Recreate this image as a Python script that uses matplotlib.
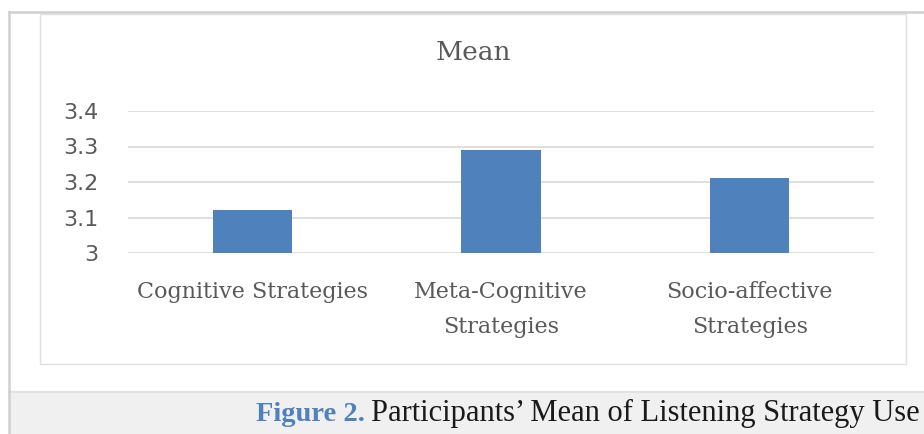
import matplotlib
matplotlib.use("Agg")
import matplotlib.pyplot as plt
from matplotlib.patches import Rectangle
from matplotlib.lines import Line2D

categories = ["Cognitive Strategies", "Meta-Cognitive\nStrategies", "Socio-affective\nStrategies"]
means = [3.12, 3.29, 3.21]
y_ticks = [3.0, 3.1, 3.2, 3.3, 3.4]
y_tick_labels = ["3", "3.1", "3.2", "3.3", "3.4"]

W, H = 924, 434
fig = plt.figure(figsize=(W / 100, H / 100), dpi=100)
fig.patch.set_facecolor("white")


def fx(px):
    return px / W


def fy(py):
    # pixel row from top -> figure fraction from bottom
    return 1 - py / H


# frame pieces around the chart (page layout)
fig.add_artist(Rectangle((fx(9), 0), fx(W - 9), fy(392), transform=fig.transFigure,
                         facecolor="#f0f0f0", edgecolor="none", zorder=0))
fig.add_artist(Line2D([fx(9), 1], [fy(392), fy(392)], transform=fig.transFigure,
                      color="#e2e2e2", lw=1.5))
fig.add_artist(Line2D([fx(9), 1], [fy(12), fy(12)], transform=fig.transFigure,
                      color="#cfcfcf", lw=1.8))
fig.add_artist(Line2D([fx(9), fx(9)], [0, fy(12)], transform=fig.transFigure,
                      color="#cfcfcf", lw=1.8))
fig.add_artist(Rectangle((fx(40), fy(364)), fx(906 - 40), (364 - 14) / H,
                         transform=fig.transFigure, facecolor="none",
                         edgecolor="#e0e0e0", lw=1.0))

ax = fig.add_axes([fx(128), fy(253), fx(874 - 128), (253 - 111) / H])
ax.set_facecolor("none")
x = range(len(categories))
ax.bar(x, means, width=0.32, color="#4f81bd", zorder=3)
ax.set_ylim(3.0, 3.4)
ax.set_xlim(-0.5, 2.5)
ax.set_yticks(y_ticks)
ax.set_yticklabels(y_tick_labels, family="DejaVu Sans", fontsize=16, color="#595959")
ax.set_xticks(list(x))
ax.set_xticklabels(categories, family="DejaVu Serif", fontsize=16, color="#595959",
                   linespacing=1.75)
ax.tick_params(axis="y", length=0, pad=21)
ax.tick_params(axis="x", length=0, pad=20)
ax.grid(axis="y", color="#d9d9d9", lw=1.2)
ax.set_axisbelow(True)
for s in ax.spines.values():
    s.set_visible(False)

fig.text(fx(473), fy(52), "Mean", ha="center", va="center", family="DejaVu Serif",
         fontsize=19, color="#595959")

# caption
rest = fig.text(fx(920), fy(421), "Participants\u2019 Mean of Listening Strategy Use",
                ha="right", va="baseline", family="Liberation Serif", fontsize=22,
                color="#1a1a1a")
fig.canvas.draw()
bb = rest.get_window_extent()
fig.text((bb.x0 - 7) / W, fy(421), "Figure 2.", ha="right", va="baseline",
         family="Liberation Serif", fontweight="bold", fontsize=20.5, color="#4f81bd")

fig.savefig("out.png", dpi=100)
